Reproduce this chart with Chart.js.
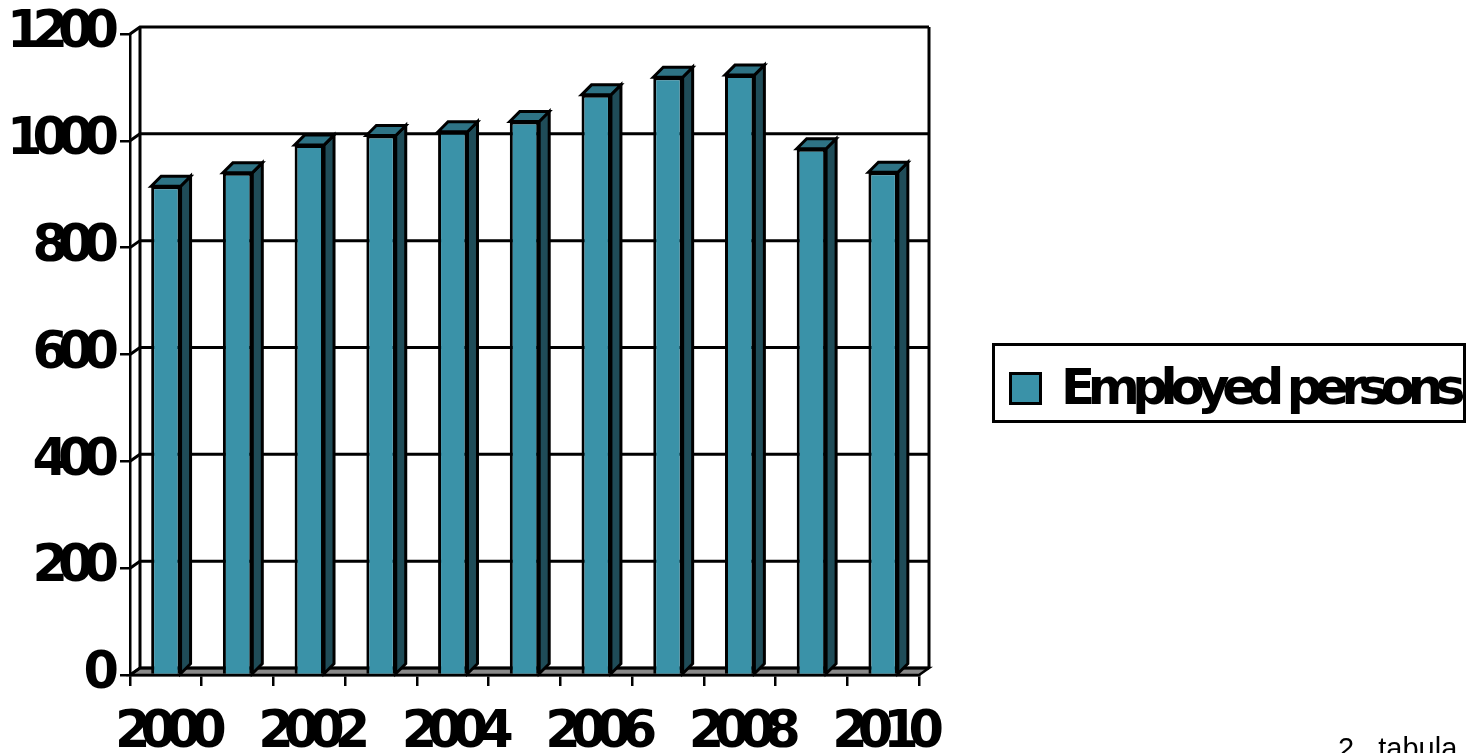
<!DOCTYPE html>
<html>
<head>
<meta charset="utf-8">
<script src="https://cdn.jsdelivr.net/npm/chart.js@4.4.1/dist/chart.umd.min.js"></script>
<style>
  html, body { margin: 0; padding: 0; background: #fff; overflow: hidden; }
  #wrap { position: relative; width: 1470px; height: 753px; }
  canvas { position: absolute; left: 0; top: 0; }
  #legend { position: absolute; left: 992px; top: 343px; width: 474px; height: 80px; box-sizing: border-box; border: 3px solid #000; background: #fff; }
  #legend .sw { position: absolute; left: 14px; top: 26px; width: 33px; height: 33px; box-sizing: border-box; border: 3px solid #000; background: #3A92A8; }
  #legend .tx { position: absolute; left: 66px; top: 6px; font: bold 50px "DejaVu Sans"; letter-spacing: -7.5px; line-height: 70px; white-space: nowrap; color: #000; }
  #note { position: absolute; left: 1338px; top: 734px; font: 29px "Liberation Sans", Arial, sans-serif; line-height: 29px; white-space: pre; color: #000; }
</style>
</head>
<body>
<div id="wrap">
  <canvas id="c" width="1470" height="753"></canvas>
  <div id="legend"><div class="sw"></div><div class="tx"></div></div>
  <div id="note">2.  tabula</div>
</div>
<script>
const years = ['2000','2001','2002','2003','2004','2005','2006','2007','2008','2009','2010'];
const employedPersons = [915, 940, 992, 1010, 1017, 1036, 1086, 1119, 1123, 985, 941];
const seriesName = 'Employed persons';
const yTicks = [0, 200, 400, 600, 800, 1000, 1200];

const FRONT = '#3A92A8', SIDE = '#1F4C58', TOP = '#2E7385';
const DX = 10, DY = 10;
const WALL_DX = 10, WALL_DY = 7;

document.querySelector('#legend .tx').textContent = seriesName;

function setSpacing(chart) { try { chart.ctx.letterSpacing = '-10px'; } catch (e) {} }

const threeD = {
  id: 'threeD',
  beforeUpdate: setSpacing,
  beforeLayout: setSpacing,
  beforeDraw(chart) {
    setSpacing(chart);
    const { ctx, chartArea: a, scales: { y } } = chart;
    ctx.save();
    ctx.letterSpacing = '0px';
    const L = a.left, R = a.right, B = y.getPixelForValue(0);
    // floor
    ctx.beginPath();
    ctx.moveTo(L, B); ctx.lineTo(R, B); ctx.lineTo(R + WALL_DX, B - WALL_DY); ctx.lineTo(L + WALL_DX, B - WALL_DY); ctx.closePath();
    ctx.fillStyle = '#8a8a8a'; ctx.fill();
    ctx.lineWidth = 2.5; ctx.strokeStyle = '#000'; ctx.stroke();
    // back wall grid + left wall lines
    ctx.lineWidth = 3;
    yTicks.forEach(v => {
      const py = y.getPixelForValue(v);
      ctx.beginPath();
      ctx.moveTo(L, py); ctx.lineTo(L + WALL_DX, py - WALL_DY); ctx.lineTo(R + WALL_DX, py - WALL_DY);
      ctx.stroke();
    });
    const topY = y.getPixelForValue(yTicks[yTicks.length - 1]) - WALL_DY;
    ctx.beginPath();
    ctx.moveTo(L + WALL_DX, topY); ctx.lineTo(L + WALL_DX, B - WALL_DY);
    ctx.moveTo(R + WALL_DX, topY); ctx.lineTo(R + WALL_DX, B - WALL_DY);
    ctx.stroke();
    ctx.restore();
  },
  beforeDatasetDraw(chart, args) {
    const { ctx } = chart;
    const meta = args.meta;
    ctx.save();
    ctx.lineWidth = 3; ctx.strokeStyle = '#000'; ctx.lineJoin = 'miter';
    meta.data.forEach(bar => {
      const x0 = bar.x - bar.width / 2, x1 = bar.x + bar.width / 2;
      const yt = bar.y, yb = bar.base;
      // side
      ctx.beginPath();
      ctx.moveTo(x1, yt); ctx.lineTo(x1 + DX, yt - DY); ctx.lineTo(x1 + DX, yb - DY); ctx.lineTo(x1, yb); ctx.closePath();
      ctx.fillStyle = SIDE; ctx.fill(); ctx.stroke();
      // top
      ctx.beginPath();
      ctx.moveTo(x0, yt); ctx.lineTo(x0 + DX, yt - DY); ctx.lineTo(x1 + DX, yt - DY); ctx.lineTo(x1, yt); ctx.closePath();
      ctx.fillStyle = TOP; ctx.fill(); ctx.stroke();
    });
    ctx.restore();
  }
};

new Chart(document.getElementById('c'), {
  type: 'bar',
  data: {
    labels: years,
    datasets: [{
      label: seriesName,
      data: employedPersons,
      backgroundColor: FRONT,
      borderColor: '#000',
      borderWidth: 3,
      barPercentage: 0.41,
      categoryPercentage: 1
    }]
  },
  options: {
    responsive: false,
    animation: false,
    events: [],
    layout: { padding: { left: 0, top: 33, right: 551, bottom: 0 } },
    plugins: { legend: { display: false }, tooltip: { enabled: false } },
    scales: {
      x: {
        offset: true,
        grid: { display: true, drawOnChartArea: false, color: '#000', lineWidth: 2.5, tickLength: 11, offset: true },
        border: { display: true, color: '#000', width: 2.5 },
        ticks: {
          autoSkip: false, maxRotation: 0, minRotation: 0, padding: 17, color: '#000',
          font: { family: 'DejaVu Sans', weight: 'bold', size: 51 },
          callback(value, index) { return index % 2 === 0 ? this.getLabelForValue(value) : ''; }
        },
        afterFit(scale) { scale.height = 78; }
      },
      y: {
        min: 0, max: 1200,
        afterBuildTicks(scale) { scale.ticks = yTicks.map(v => ({ value: v })); },
        grid: { display: true, drawOnChartArea: false, color: '#000', lineWidth: 2.5, tickLength: 10 },
        border: { display: true, color: '#000', width: 2.5 },
        ticks: {
          padding: 11, color: '#000',
          font: { family: 'DejaVu Sans', weight: 'bold', size: 51, lineHeight: 0.9 },
          callback(value) { return String(value); }
        },
        afterFit(scale) { scale.width = 130; }
      }
    }
  },
  plugins: [threeD]
});
</script>
</body>
</html>
